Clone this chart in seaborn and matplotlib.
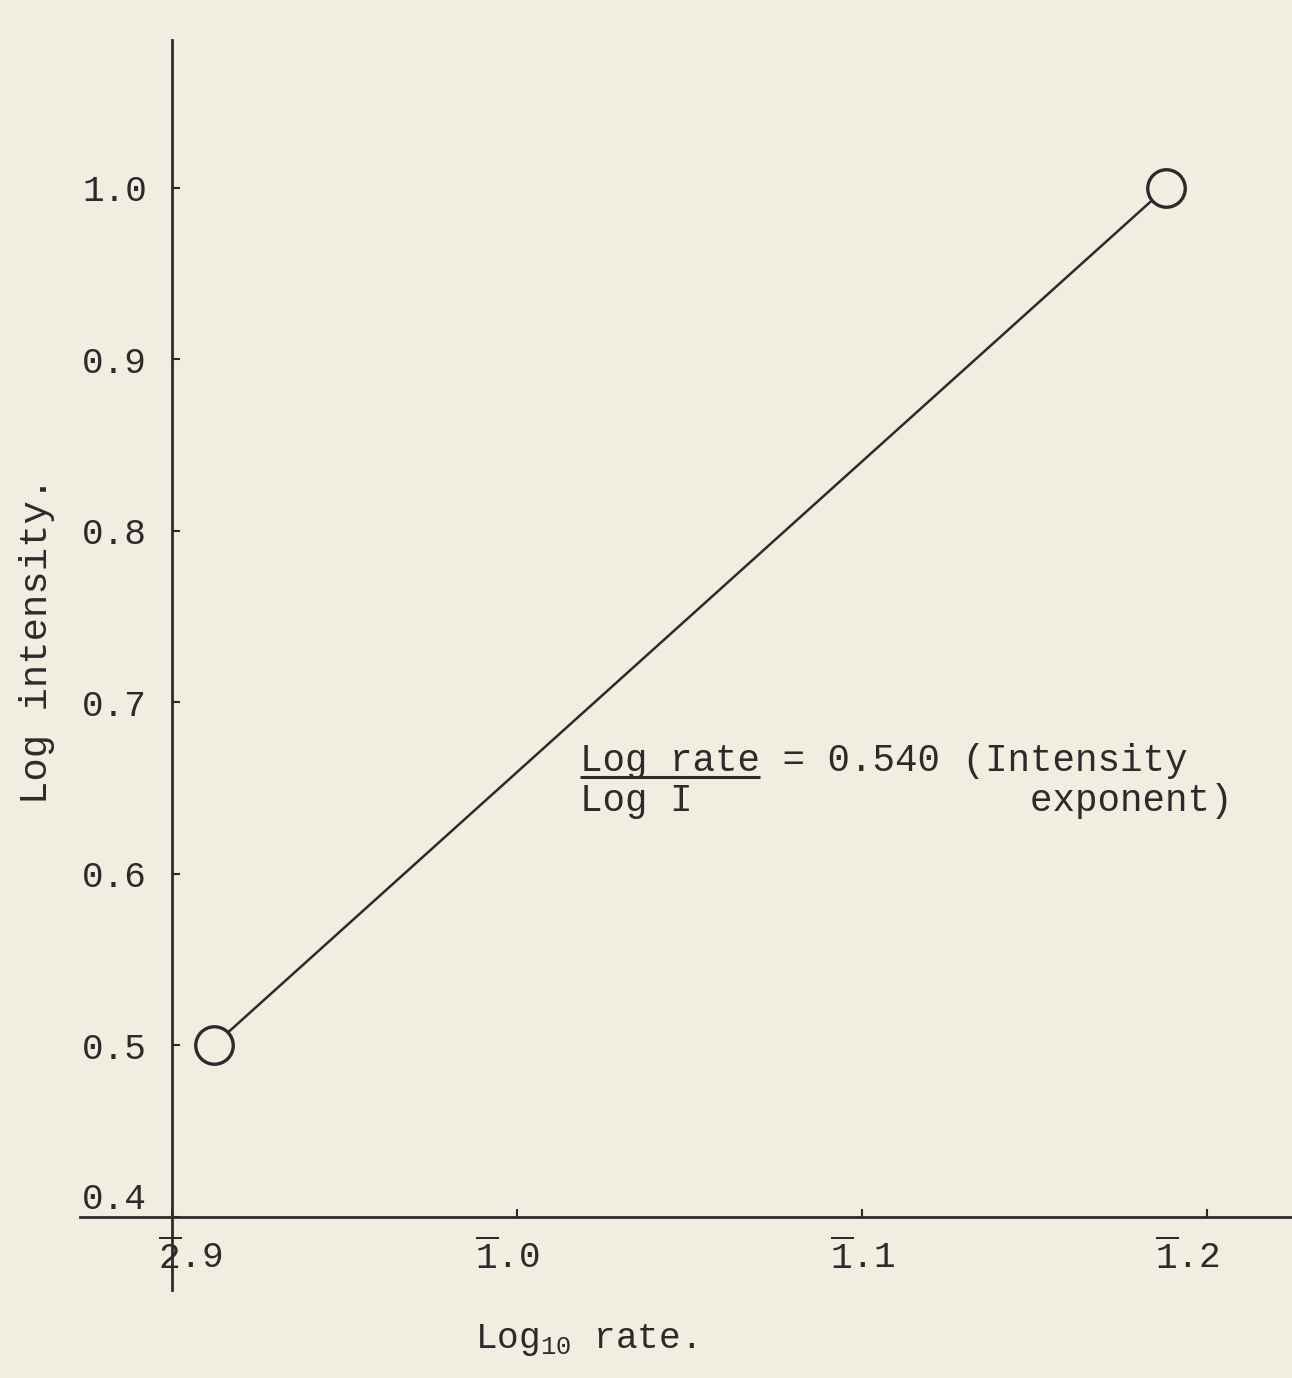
import matplotlib
matplotlib.use("Agg")
import matplotlib.pyplot as plt
import matplotlib.transforms as mtrans
import seaborn as sns
import pandas as pd

# ---- data (log10 rate vs log intensity) ----
log_rate = [-1.088, -0.812]
log_intensity = [0.50, 1.00]

x_ticks = [-1.1, -1.0, -0.9, -0.8]
x_tick_labels = [r"$\overline{2}$.9", r"$\overline{1}$.0", r"$\overline{1}$.1", r"$\overline{1}$.2"]
y_ticks = [0.4, 0.5, 0.6, 0.7, 0.8, 0.9, 1.0]
y_tick_labels = ["0.4", "0.5", "0.6", "0.7", "0.8", "0.9", "1.0"]

df = pd.DataFrame({"log_rate": log_rate, "log_intensity": log_intensity})

sns.set_style("ticks")
BG = "#f1ede1"
INK = "#2b2b2b"
FONT = "Liberation Mono"
plt.rcParams["font.family"] = [FONT, "DejaVu Sans"]
plt.rcParams["mathtext.fontset"] = "custom"
plt.rcParams["mathtext.rm"] = FONT
plt.rcParams["mathtext.it"] = FONT
plt.rcParams["mathtext.bf"] = FONT + ":bold"
plt.rcParams["mathtext.tt"] = FONT

fig = plt.figure(figsize=(12.92, 13.78), dpi=100, facecolor=BG)
ax = fig.add_axes([80 / 1292, 88 / 1378, 1212 / 1292, 1250 / 1378])
ax.set_facecolor(BG)

sns.lineplot(data=df, x="log_rate", y="log_intensity", ax=ax, sort=False,
             color=INK, linewidth=1.8, marker="o", markersize=27,
             markerfacecolor=BG, markeredgecolor=INK, markeredgewidth=2.4)

ax.set_xlim(-1.1267, -0.7754)
ax.set_ylim(0.3574, 1.0863)

for s in ["top", "right"]:
    ax.spines[s].set_visible(False)
ax.spines["left"].set_position(("data", -1.1))
ax.spines["bottom"].set_position(("data", 0.4))
for s in ["left", "bottom"]:
    ax.spines[s].set_color(INK)
    ax.spines[s].set_linewidth(2.0)

ax.set_xticks(x_ticks)
ax.set_xticklabels(x_tick_labels)
ax.set_yticks(y_ticks)
ax.set_yticklabels(y_tick_labels)
ax.tick_params(axis="both", direction="in", length=6, width=1.5, color=INK,
               labelsize=26, labelcolor=INK)
ax.tick_params(axis="y", pad=18)
ax.tick_params(axis="x", pad=16)

# 0.4 sits above the baseline in the original
for lab in ax.get_yticklabels():
    if lab.get_text() == "0.4":
        lab.set_va("bottom")

# typewritten x labels are not perfectly centred on their ticks
x_shifts_px = [18, -10, 0, -20]
for lab, dx in zip(ax.get_xticklabels(), x_shifts_px):
    lab.set_transform(lab.get_transform() +
                      mtrans.ScaledTranslation(dx / 100, 0, fig.dpi_scale_trans))

ax.set_xlabel("Log$_{10}$ rate.", fontsize=26, color=INK)
ax.xaxis.set_label_coords(0.417, -0.026)
ax.set_ylabel("Log intensity.", fontsize=28, color=INK)
ax.yaxis.set_label_coords(-0.021, 0.52)

# annotation
x0 = 500 / 1212
ax.text(x0, (1290 - 771) / 1250, "Log rate = 0.540 (Intensity",
        transform=ax.transAxes, fontsize=27, color=INK, va="baseline", ha="left")
ax.text(x0, (1290 - 811) / 1250, "Log I               exponent)",
        transform=ax.transAxes, fontsize=27, color=INK, va="baseline", ha="left")
# fraction bar under "Log rate"
ax.plot([x0, 680 / 1212], [(1290 - 777) / 1250] * 2, transform=ax.transAxes,
        color=INK, linewidth=2.2, solid_capstyle="butt")

fig.savefig("out.png", dpi=100, facecolor=BG)
